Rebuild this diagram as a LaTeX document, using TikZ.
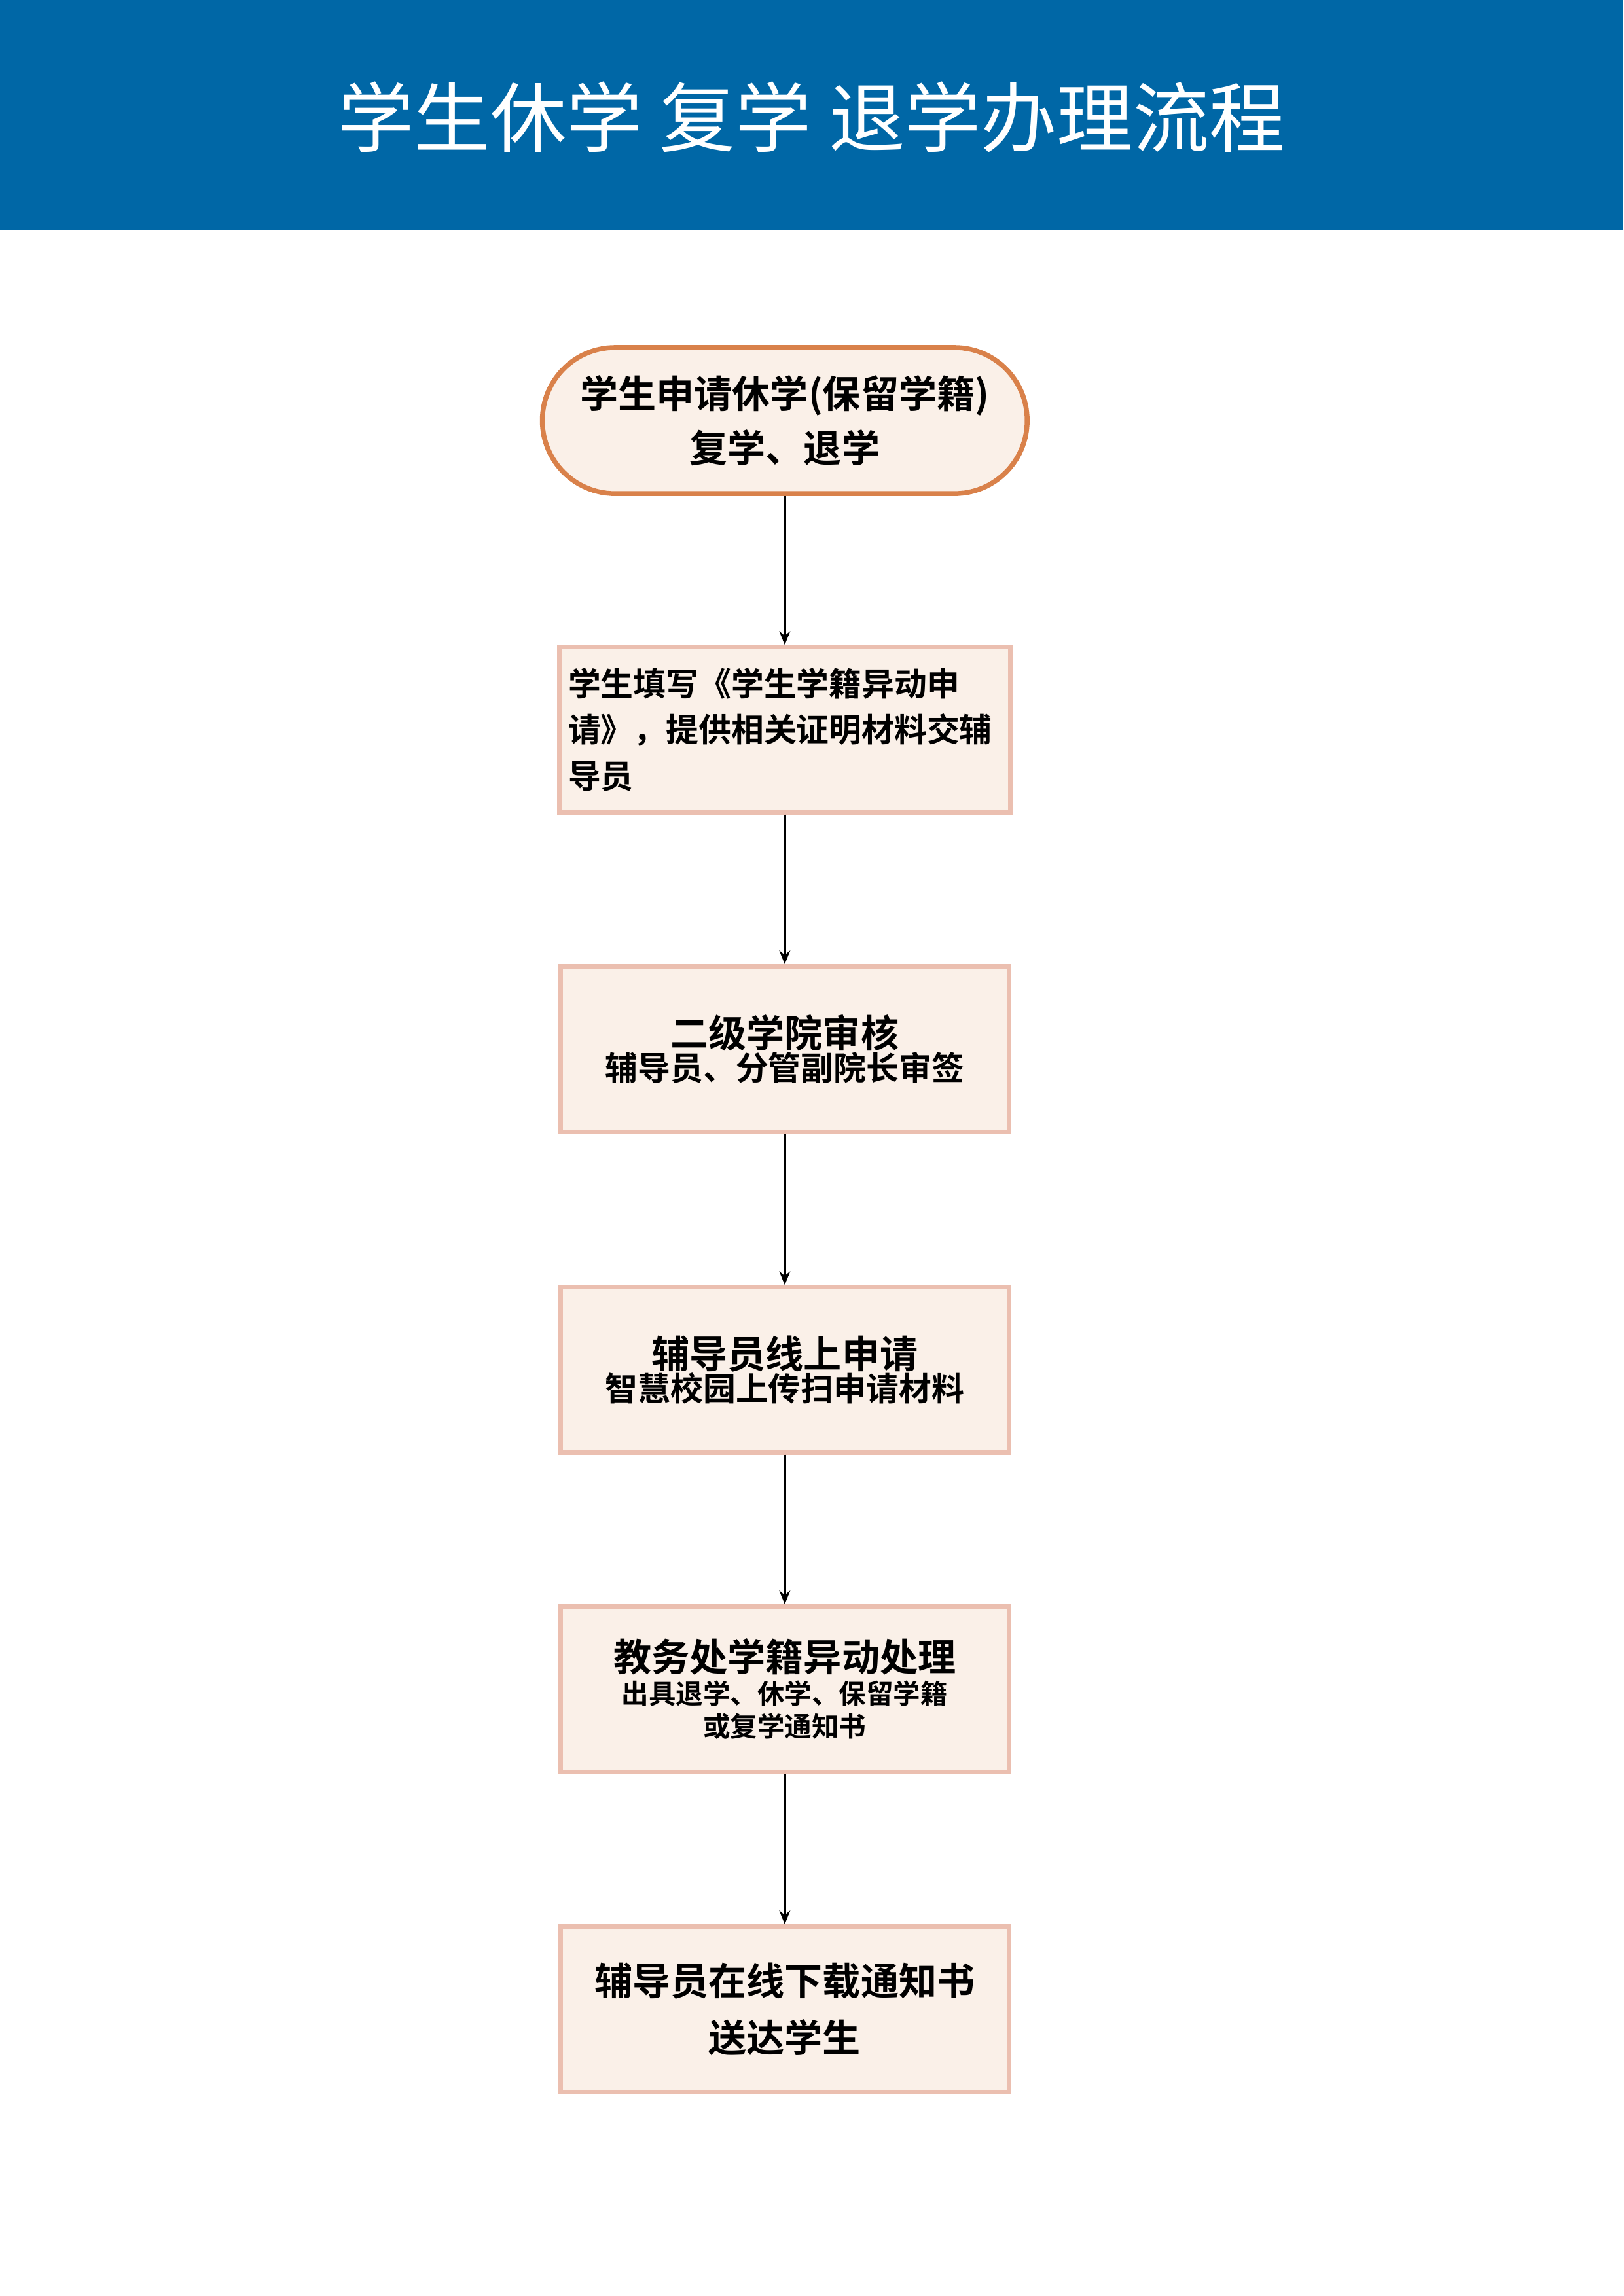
\documentclass[tikz,border=0pt]{standalone}
\usepackage{fontspec}
\setmainfont{Noto Sans CJK SC}[BoldFont={Noto Sans CJK SC Bold}]
\usetikzlibrary{arrows.meta,positioning}
\definecolor{headblue}{HTML}{0067A6}
\definecolor{boxfill}{HTML}{FAF0E8}
\definecolor{startline}{HTML}{D9814A}
\definecolor{boxline}{HTML}{EBBFB0}
\begin{document}
\begin{tikzpicture}[
  stepbox/.style={draw=boxline,fill=boxfill,line width=1.6pt,minimum width=5.8cm,minimum height=2.14cm,align=center,font=\bfseries},
  flow/.style={-{Stealth[length=5pt,width=4pt]},line width=0.8pt}]
\useasboundingbox (0,0) rectangle (21,-29.7);
\fill[headblue] (0,0) rectangle (21,-2.97);
\node[white,font=\fontsize{28}{34}\selectfont] (title) at (10.5,-1.52) {学生休学 复学 退学办理流程};

% start
\node[draw=startline,fill=boxfill,line width=1.8pt,rounded corners=0.94cm,minimum width=6.27cm,minimum height=1.89cm,align=center,font=\fontsize{14}{20}\bfseries\selectfont] (apply) at (10.15,-5.44) {学生申请休学(保留学籍)\\复学、退学};

% steps
\node[stepbox,align=left,text width=5.6cm,font=\fontsize{12}{17}\bfseries\selectfont] (fill) at (10.15,-9.44) {学生填写《学生学籍异动申\\请》，提供相关证明材料交辅\\导员};
\node[stepbox] (college) at (10.15,-13.57) {{\fontsize{14}{22}\selectfont 二级学院审核}\\{\fontsize{12}{17}\selectfont 辅导员、分管副院长审签}};
\node[stepbox] (online) at (10.15,-17.72) {{\fontsize{14}{22}\selectfont 辅导员线上申请}\\{\fontsize{12}{17}\selectfont 智慧校园上传扫申请材料}};
\node[stepbox] (office) at (10.15,-21.85) {{\fontsize{14}{21}\selectfont 教务处学籍异动处理}\\{\fontsize{10}{14}\selectfont 出具退学、休学、保留学籍}\\{\fontsize{10}{14}\selectfont 或复学通知书}};
\node[stepbox,font=\fontsize{14}{21}\bfseries\selectfont] (notice) at (10.15,-25.99) {辅导员在线下载通知书\\送达学生};

\draw[flow] (apply) -- (fill);
\draw[flow] (fill) -- (college);
\draw[flow] (college) -- (online);
\draw[flow] (online) -- (office);
\draw[flow] (office) -- (notice);
\end{tikzpicture}
\end{document}
